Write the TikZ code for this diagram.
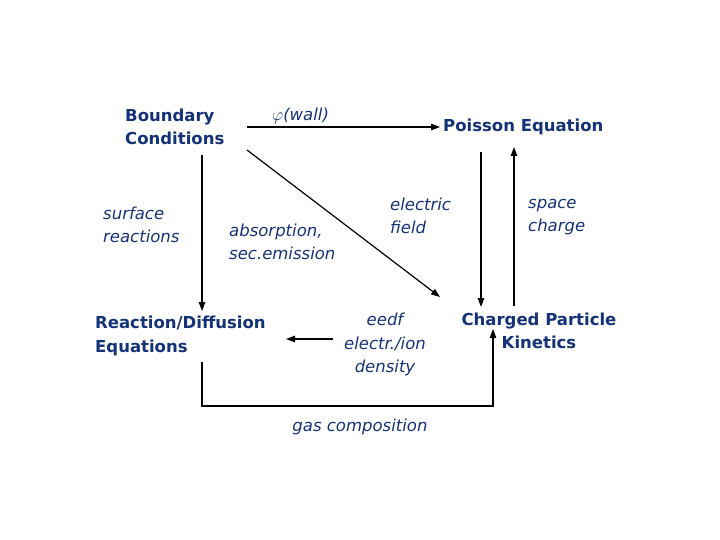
\documentclass[tikz,border=0pt]{standalone}
\usepackage{fontspec}
\setmainfont{DejaVu Sans}
\usetikzlibrary{arrows.meta}
\definecolor{tb}{RGB}{20,50,120}
\begin{document}
\begin{tikzpicture}[x=1pt,y=-1pt,
  lbl/.style={text=tb,font=\fontsize{16.5}{23.5}\selectfont,align=left,inner sep=0pt},
  bl/.style={lbl,font=\fontsize{16.5}{23.5}\selectfont\bfseries},
  it/.style={lbl,font=\fontsize{16.5}{23.5}\selectfont\itshape},
  arr/.style={-{Triangle[length=9pt,width=6.5pt]},line width=1.2pt}]
\useasboundingbox (0,0) rectangle (720,540);
\node[bl,anchor=west] (bc) at (125,127) {Boundary\\Conditions};
\node[it,anchor=west] (phi) at (272,116) {$\varphi$(wall)};
\node[bl,anchor=west] (pe) at (443,127) {Poisson Equation};
\node[it,anchor=west] (sr) at (103,225) {surface\\reactions};
\node[it,anchor=west] (ab) at (229,242) {absorption,\\sec.emission};
\node[it,anchor=west] (ef) at (390,216) {electric\\field};
\node[it,anchor=west] (sc) at (528,217) {space\\charge};
\node[bl,anchor=west] (rd) at (95,336) {Reaction/Diffusion\\Equations};
\node[it,anchor=north,align=center] (ed) at (385,313) {eedf\\electr./ion\\density};
\node[bl,align=center] (cp) at (539,331) {Charged Particle\\Kinetics};
\node[it] (gc) at (360,427) {gas composition};
\coordinate (a1) at (247,127); \coordinate (a2) at (440,127);
\draw[arr] (a1) -- (a2);
\coordinate (b1) at (202,155); \coordinate (b2) at (202,311);
\draw[arr] (b1) -- (b2);
\coordinate (c1) at (247,150); \coordinate (c2) at (440,297);
\draw[arr] (c1) -- (c2);
\coordinate (d1) at (481,152); \coordinate (d2) at (481,307);
\draw[arr] (d1) -- (d2);
\coordinate (e1) at (514,306); \coordinate (e2) at (514,147);
\draw[arr] (e1) -- (e2);
\coordinate (f1) at (333,339); \coordinate (f2) at (286,339);
\draw[arr] (f1) -- (f2);
\coordinate (g1) at (202,362); \coordinate (g2) at (493,329);
\draw[arr] (g1) -- (202,406) -- (493,406) -- (g2);
\end{tikzpicture}
\end{document}
